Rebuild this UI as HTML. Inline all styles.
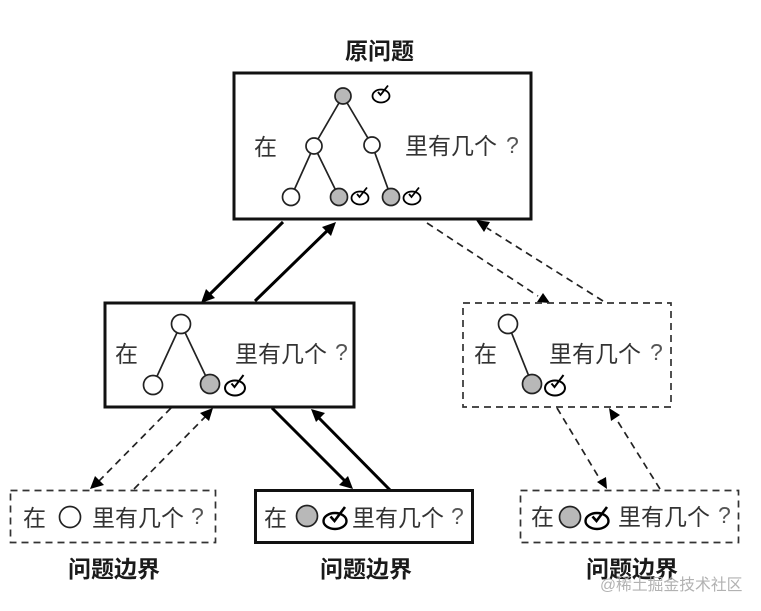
<!DOCTYPE html>
<html><head><meta charset="utf-8">
<style>
html,body{margin:0;padding:0;background:#fff;width:761px;height:611px;overflow:hidden}
svg{display:block}
text{font-family:"Liberation Sans","Noto Sans CJK SC",sans-serif;fill:#333}
.t{font-size:23px}
.q{font-size:23px;fill:#555}
.b{font-size:23px;font-weight:700;fill:#1a1a1a}
.n{fill:#fff;stroke:#222;stroke-width:1.7}
.g{fill:#b8b8b8;stroke:#222;stroke-width:1.7}
.e{stroke:#222;stroke-width:1.7;fill:none}
.s{stroke:#000;stroke-width:3;fill:none}
.d{stroke:#222;stroke-width:1.7;fill:none;stroke-dasharray:7 5}
.bx{fill:#fff;stroke:#111;stroke-width:3}
.dx{fill:#fff;stroke:#333;stroke-width:1.7;stroke-dasharray:7 5}
</style></head>
<body>
<svg width="761" height="611" viewBox="0 0 761 611" xmlns="http://www.w3.org/2000/svg">
<defs>
<g id="a"><ellipse cx="0" cy="0" rx="8.500" ry="6.500" fill="#fff" stroke="#000" stroke-width="1.800"/><path d="M-3 -4 L-0.500 -1 L7 -10.500" fill="none" stroke="#000" stroke-width="1.800"/></g>
<g id="m"><ellipse cx="0" cy="0" rx="10" ry="7.500" fill="#fff" stroke="#000" stroke-width="2"/><path d="M-3.500 -4.500 L-0.500 -1 L8.500 -13" fill="none" stroke="#000" stroke-width="2"/></g>
<g id="A"><ellipse cx="0" cy="0" rx="11.500" ry="8" fill="#fff" stroke="#000" stroke-width="2.400"/><path d="M-4.500 -4.500 L-0.500 0 L10 -14" fill="none" stroke="#000" stroke-width="2.600"/></g>
</defs>

<text class="b" x="345" y="59">原问题</text>
<text class="b" x="68" y="577">问题边界</text>
<text class="b" x="320" y="577">问题边界</text>
<text class="b" x="586" y="577">问题边界</text>

<!-- connectors -->
<path class="s" d="M283 222 L207 297"/><path d="M201 303 L206 289 L215 298Z" fill="#000"/>
<path class="s" d="M255 301 L330 228"/><path d="M336 222 L331 236 L322 227Z" fill="#000"/>
<path class="d" d="M427 223 L538 296"/><path d="M550 303 L537 302 L543 293Z" fill="#000"/>
<path class="d" d="M603 301 L487 228"/><path d="M476 220 L490 222 L484 232Z" fill="#000"/>
<path class="d" d="M171 408 L98 482"/><path d="M90 489 L95 476 L104 485Z" fill="#000"/>
<path class="d" d="M134 489 L207 415"/><path d="M213 408 L209 421 L200 413Z" fill="#000"/>
<path class="s" d="M272 408 L347 483"/><path d="M353 489 L339 485 L348 476Z" fill="#000"/>
<path class="s" d="M390 490 L317 416"/><path d="M311 409 L325 413 L316 422Z" fill="#000"/>
<path class="d" d="M557 408 L601 481"/><path d="M607 489 L597 482 L606 477Z" fill="#000"/>
<path class="d" d="M660 489 L615 417"/><path d="M609 408 L620 415 L611 421Z" fill="#000"/>

<!-- boxes -->
<rect class="bx" x="234" y="73" width="297" height="146"/>
<rect class="bx" x="105" y="303" width="249" height="104"/>
<rect class="dx" x="463" y="303" width="208" height="104"/>
<rect class="dx" x="10.500" y="490.500" width="205" height="52"/>
<rect class="bx" x="255.500" y="490.500" width="217" height="52"/>
<rect class="dx" x="520.500" y="490.500" width="218" height="52"/>

<!-- top tree -->
<path class="e" d="M343 96 L314 146 L291 197M314 146 L339 197M343 96 L372 145 L391 197"/>
<circle class="g" cx="343" cy="96" r="8"/>
<circle class="n" cx="314" cy="146" r="8"/>
<circle class="n" cx="372" cy="145" r="8"/>
<circle class="n" cx="291" cy="197" r="8.500"/>
<circle class="g" cx="339" cy="197" r="8.500"/>
<circle class="g" cx="391" cy="197" r="8.500"/>
<use href="#a" x="381" y="96"/>
<use href="#a" x="360" y="198"/>
<use href="#a" x="412" y="198"/>
<text class="t" x="254" y="155">在</text>
<text class="t" x="405" y="154">里有几个</text><text class="q" x="506" y="153">?</text>

<!-- mid left -->
<path class="e" d="M181 324 L153 385M181 324 L210 385"/>
<circle class="n" cx="181" cy="324" r="9.500"/>
<circle class="n" cx="153" cy="385" r="9.500"/>
<circle class="g" cx="210" cy="384" r="9.500"/>
<use href="#m" x="235" y="388"/>
<text class="t" x="115" y="362">在</text>
<text class="t" x="235" y="362">里有几个</text><text class="q" x="335" y="360">?</text>

<!-- mid right -->
<path class="e" d="M508 324 L532 384"/>
<circle class="n" cx="508" cy="324" r="9.500"/>
<circle class="g" cx="532" cy="384" r="9.500"/>
<use href="#m" x="555" y="388"/>
<text class="t" x="474" y="362">在</text>
<text class="t" x="549" y="362">里有几个</text><text class="q" x="650" y="360">?</text>

<!-- bottom -->
<text class="t" x="23" y="526">在</text>
<circle class="n" cx="70" cy="517" r="10.500"/>
<text class="t" x="92" y="526">里有几个</text><text class="q" x="191" y="524">?</text>

<text class="t" x="264" y="526">在</text>
<circle class="g" cx="307" cy="516" r="10.500"/>
<use href="#A" x="335" y="521"/>
<text class="t" x="352" y="526">里有几个</text><text class="q" x="451" y="524">?</text>

<text class="t" x="531" y="525">在</text>
<circle class="g" cx="570" cy="517" r="10.500"/>
<use href="#A" x="597" y="521"/>
<text class="t" x="618" y="525">里有几个</text><text class="q" x="718" y="523">?</text>

<!-- watermark -->
<text x="600" y="590" style="font-size:15.800px;fill:#aaa;opacity:.9">@稀土掘金技术社区</text>
</svg>
</body></html>
